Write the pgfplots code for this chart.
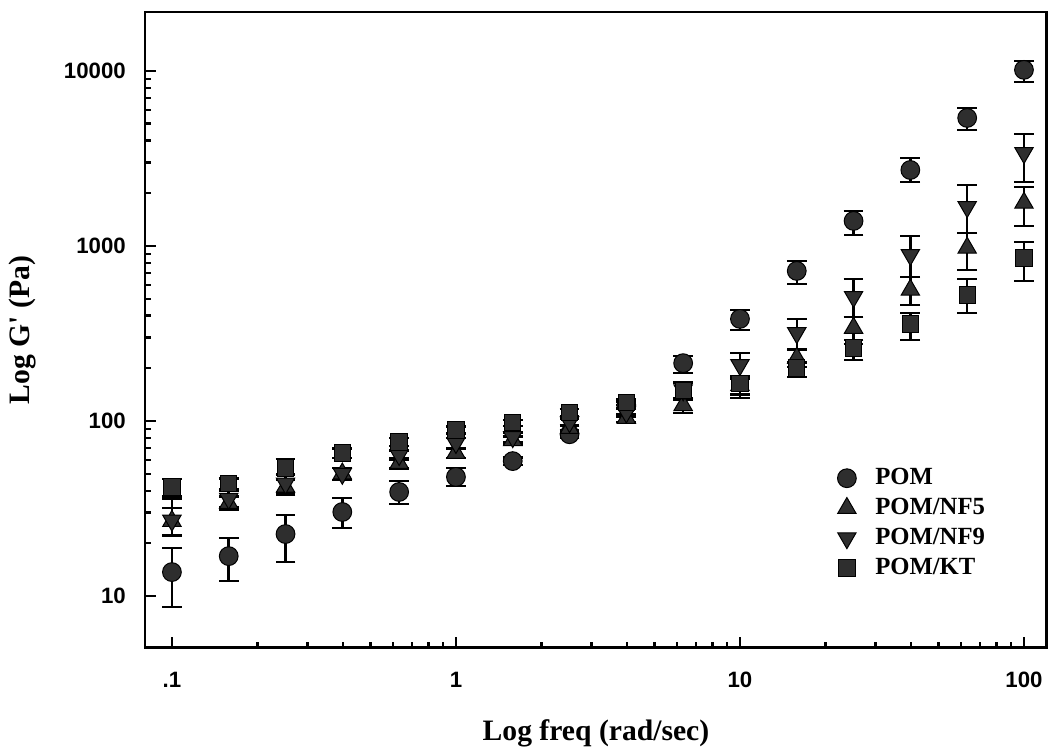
\documentclass[border=0pt]{standalone}
\usepackage{fontspec}
\setmainfont{Liberation Serif}
\newfontfamily\ticksf{Liberation Sans}
\usepackage{pgfplots}
\usepackage{pgfplotstable}
\pgfplotsset{compat=1.18}
\usetikzlibrary{calc}

% x  y  plus  minus
\pgfplotstableread{
x y ep em
0.1 13.7 5.1 5.05
0.1585 16.9 4.5 4.7
0.2512 22.6 6.4 7.0
0.3981 30.2 6.1 5.7
0.631 39.3 6.1 5.7
1 47.9 5.9 5.4
1.585 59 3 3
2.512 84 4 4
3.981 123 6 6
6.31 214 21 26
10 383 47 52
15.85 720 100 113
25.12 1390 195 234
39.81 2716 469 393
63.1 5386 764 786
100 10140 1260 1490
}\pom
\pgfplotstableread{
x y ep em
0.1 26.8 5 4.5
0.1585 34 3 3
0.2512 42 4 4
0.3981 50 4 4
0.631 57.5 4 4
1 65.6 4 4
1.585 77.6 4 4
2.512 91 4 4
3.981 104 5 5
6.31 123 10 12
10 160 15 18
15.85 229 25 25
25.12 340 53 50
39.81 561 104 100
63.1 975 211 245
100 1762 410 462
}\nfive
\pgfplotstableread{
x y ep em
0.1 27 9 5
0.1585 36 4 4
0.2512 44 5 5
0.3981 50 4 4
0.631 64 4 4
1 75 5 5
1.585 81 5 5
2.512 98.6 5 5
3.981 112 6 6
6.31 150 15 15
10 209 36 30
15.85 318 65 60
25.12 512 135 119
39.81 889 251 224
63.1 1670 563 484
100 3400 965 1077
}\nnine
\pgfplotstableread{
x y ep em
0.1 42 4.6 4.7
0.1585 44 3 3
0.2512 53.8 6.9 4
0.3981 65.6 4 4
0.631 75.9 4 4
1 88.9 4 4
1.585 97.6 4 4
2.512 112 5 5
3.981 128 5 5
6.31 150 17 15
10 163 15 28
15.85 201 15 23
25.12 261 15 38
39.81 358 56 68
63.1 525 122 111
100 853 201 222
}\kt

\begin{document}
\begin{tikzpicture}
\begin{axis}[
    scale only axis,
    width=12.837cm, height=9.051cm,
    xmode=log, ymode=log,
    xmin=0.0804, xmax=120.5,
    ymin=5.05, ymax=21700,
    xtick={0.1,1,10,100}, xticklabels={.1,1,10,100},
    ytick={10,100,1000,10000}, yticklabels={10,100,1000,10000},
    xtick pos=bottom, ytick pos=left,
    tick align=inside,
    major tick length=0.15cm, minor tick length=0.08cm,
    axis line style={line width=1.2pt},
    every tick/.style={line width=0.9pt, black},
    xticklabel style={font=\ticksf\bfseries\fontsize{9}{10}\selectfont, yshift=-0.22cm},
    yticklabel style={font=\ticksf\bfseries\fontsize{9}{10}\selectfont, xshift=-0.15cm},
    xlabel={Log freq (rad/sec)},
    ylabel={Log G\textquotesingle{} (Pa)},
    label style={font=\bfseries\fontsize{12}{14}\selectfont},
    xlabel style={at={(axis description cs:0.5,-0.145)}, anchor=base},
    ylabel style={at={(axis description cs:-0.136,0.5)}, anchor=center},
    legend style={draw=none, fill=none, at={(axis description cs:0.759,0.299)}, anchor=north west,
        font=\bfseries\fontsize{10}{12}\selectfont, row sep=0pt, column sep=0.2cm},
    legend cell align=left,
    every axis plot/.append style={only marks, draw=black, fill=black!82,
        error bars/y dir=both, error bars/y explicit,
        error bars/error bar style={line width=1pt, black},
        error bars/error mark options={rotate=90, mark size=4pt, line width=1pt, black}},
]
\addplot[mark=*, mark size=3.8pt] table[x=x, y=y, y error plus=ep, y error minus=em] {\pom};
\addlegendentry{POM}
\addplot[mark=triangle*, mark size=4.3pt] table[x=x, y=y, y error plus=ep, y error minus=em] {\nfive};
\addlegendentry{POM/NF5}
\addplot[mark=triangle*, mark size=4.3pt, mark options={rotate=180}] table[x=x, y=y, y error plus=ep, y error minus=em] {\nnine};
\addlegendentry{POM/NF9}
\addplot[mark=square*, mark size=3.3pt] table[x=x, y=y, y error plus=ep, y error minus=em] {\kt};
\addlegendentry{POM/KT}
\coordinate (sw) at (rel axis cs:0,0);
\coordinate (ne) at (rel axis cs:1,1);
\end{axis}
\pgfresetboundingbox
\path[use as bounding box] ($(sw)+(-2.064cm,-1.409cm)$) rectangle ($(ne)+(0.1cm,0.171cm)$);
\end{tikzpicture}
\end{document}
